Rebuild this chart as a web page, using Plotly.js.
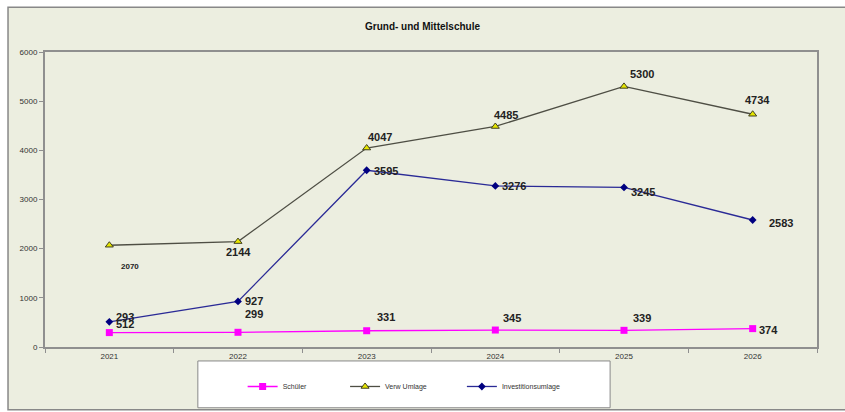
<!DOCTYPE html>
<html>
<head>
<meta charset="utf-8">
<script src="https://cdn.plot.ly/plotly-3.0.1.min.js"></script>
<style>html,body{margin:0;padding:0;background:#fff;}#chart{width:845px;height:412px;}</style>
</head>
<body>
<div id="chart"></div>
<script>
// ---- data ----
const years = ["2021", "2022", "2023", "2024", "2025", "2026"];
const schueler = [293, 299, 331, 345, 339, 374];
const verwUmlage = [2070, 2144, 4047, 4485, 5300, 4734];
const investitionsumlage = [512, 927, 3595, 3276, 3245, 2583];
const seriesNames = ["Schüler", "Verw Umlage", "Investitionsumlage"];
const chartTitle = "Grund- und Mittelschule";

// ---- styling (label offsets in px: [dx, dy-down]) ----
const offSchueler = [[16,-16],[16,-18],[19,-14],[17,-12],[18,-12],[16,1]];
const offVerw = [[21,21],[0,10],[13,-11],[11,-11],[18,-12],[5,-14]];
const offInv = [[16,2],[16,0],[19,1],[19,0],[19,5],[28,3]];
const bg = "#ECEEE0";
const font = "Liberation Sans, Arial, sans-serif";

const traces = [
  {x: years, y: schueler, name: seriesNames[0], type: "scatter", mode: "lines+markers",
   line: {color: "#FF00FF", width: 1.3}, marker: {symbol: "square", size: 7, color: "#FF00FF"}, legend: "legend"},
  {x: years, y: verwUmlage, name: seriesNames[1], type: "scatter", mode: "lines+markers",
   line: {color: "#4E4E44", width: 1.3}, marker: {symbol: "triangle-up", size: 7, color: "#E6E600", line: {color: "#404020", width: 1}}, legend: "legend2"},
  {x: years, y: investitionsumlage, name: seriesNames[2], type: "scatter", mode: "lines+markers",
   line: {color: "#2A2A96", width: 1.3}, marker: {symbol: "diamond", size: 6, color: "#000080"}, legend: "legend3"}
];

// labels: x placed at the centre of each category band (paper fraction), y on the data axis
function labels(vals, offs, size) {
  return vals.map((v, i) => ({
    x: (i + 0.5) / years.length, y: v, xref: "paper", yref: "y", text: "<b>" + v + "</b>", showarrow: false,
    xanchor: "center", yanchor: "middle", xshift: offs[i][0], yshift: -offs[i][1],
    font: {family: font, size: (typeof size === "function" ? size(i) : size), color: "#222"}
  }));
}
const annotations = [].concat(
  labels(verwUmlage, offVerw, i => i === 0 ? 8 : 11),
  labels(investitionsumlage, offInv, 11),
  labels(schueler, offSchueler, 11)
);

const legendBase = {orientation: "h", bgcolor: "rgba(0,0,0,0)", borderwidth: 0,
  font: {family: font, size: 7, color: "#333"}, yanchor: "middle", y: -0.13, xanchor: "left", itemwidth: 30};

const layout = {
  width: 845, height: 412,
  margin: {l: 45, r: 28, t: 52, b: 64},
  paper_bgcolor: "#ffffff", plot_bgcolor: bg,
  title: {text: "<b>" + chartTitle + "</b>", font: {family: font, size: 10, color: "#111"}, x: 0.5, xanchor: "center", y: 0.935, yanchor: "middle"},
  showlegend: true,
  legend: Object.assign({}, legendBase, {x: 0.256}),
  legend2: Object.assign({}, legendBase, {x: 0.3887}),
  legend3: Object.assign({}, legendBase, {x: 0.540}),
  xaxis: {type: "category", range: [-0.5, 5.5], showgrid: false, zeroline: false,
    showline: true, linecolor: "#8F8F8F", linewidth: 2, mirror: true,
    ticks: "outside", tickson: "boundaries", ticklen: 4, tickcolor: "#8F8F8F",
    tickfont: {family: font, size: 8, color: "#333"}},
  yaxis: {range: [0, 6000], dtick: 1000, showgrid: false, zeroline: false,
    showline: true, linecolor: "#8F8F8F", linewidth: 2, mirror: true,
    ticks: "outside", ticklen: 4, tickcolor: "#8F8F8F",
    tickfont: {family: font, size: 8, color: "#333"}},
  shapes: [
    {type: "rect", xref: "paper", yref: "paper", x0: -0.0479, x1: 1.04, y0: -0.2128, y1: 1.152,
     fillcolor: bg, line: {color: "#888", width: 1.5}, layer: "below"},
    {type: "rect", xref: "paper", yref: "paper", x0: 0.198, x1: 0.732, y0: -0.206, y1: -0.0473,
     fillcolor: "#ffffff", line: {color: "#888", width: 1}, layer: "below"}
  ],
  annotations: annotations
};

Plotly.newPlot("chart", traces, layout, {displayModeBar: false, staticPlot: true});
</script>
</body>
</html>
